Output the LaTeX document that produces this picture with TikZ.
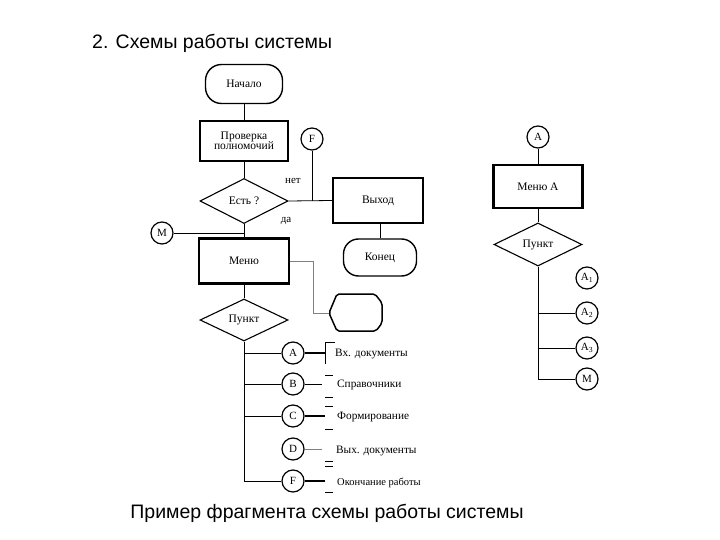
\documentclass[tikz,border=0pt]{standalone}
\usepackage{fontspec}
\setmainfont{Liberation Serif}
\newfontfamily\titlefont{Liberation Sans}
\usetikzlibrary{shapes.geometric}
\begin{document}
\begin{tikzpicture}[x=1pt,y=-1pt,
  ln/.style={line width=0.8pt},
  box/.style={draw, line width=2.4pt, inner sep=0pt, font=\fontsize{11.5}{12.5}\selectfont, align=center},
  term/.style={draw, line width=1.4pt, rounded corners=16pt, inner sep=0pt, font=\fontsize{11.5}{13}\selectfont},
  dia/.style={draw, diamond, line width=1.1pt, inner sep=0pt, font=\fontsize{11.5}{13}\selectfont},
  con/.style={draw, circle, line width=1.2pt, minimum size=22pt, inner sep=0pt, font=\fontsize{11}{12}\selectfont},
  ann/.style={anchor=west, inner sep=0pt, font=\fontsize{11.3}{13}\selectfont},
  lbl/.style={inner sep=0pt, font=\fontsize{11}{12}\selectfont},
  ttl/.style={inner sep=0pt, font=\titlefont\fontsize{19.5}{22}\selectfont}]
\useasboundingbox (0,0) rectangle (720,540);
% titles
\node[ttl, anchor=west] (title) at (92,43) {2. Схемы работы системы};
\node[ttl] (caption) at (327,513) {Пример фрагмента схемы работы системы};
% left column
\node[term, minimum width=77pt, minimum height=39pt] (start) at (244,84) {Начало};
\node[box, minimum width=88pt, minimum height=40pt] (prov) at (244,141) {Проверка\\[-2pt]полномочий};
\node[con] (F0) at (312,139) {F};
\node[dia, minimum width=88pt, minimum height=45pt] (est) at (244,201) {Есть ?};
\node[box, minimum width=90pt, minimum height=45pt] (vyh) at (378,200.5) {Выход};
\node[term, minimum width=73pt, minimum height=37pt, rounded corners=15pt] (konec) at (380,257.5) {Конец};
\node[con] (M0) at (162,233) {M};
\node[box, minimum width=90pt, minimum height=45pt] (menu) at (244,261) {Меню};
\node[dia, minimum width=88pt, minimum height=42pt] (punkt) at (244,320) {Пункт};
\node[lbl] (net) at (293,181) {нет};
\node[lbl] (da) at (286,221) {да};
% hexagon-like shape
\coordinate (hexW) at (329,313);
\draw[line width=1.5pt, rounded corners=2pt] (hexW) -- (337,294) -- (375,294) -- (382,303) -- (382,323) -- (376,331) -- (337,331) -- cycle;
% connectors left column
\draw[ln] (start) -- (prov);
\draw[ln] (prov) -- (est);
\draw[ln] (est.east) -- (vyh.west);
\draw[ln] (F0) -- (F0 |- est.east);
\draw[ln] (vyh.south -| konec.north) -- (konec.north);
\draw[ln] (est) -- (menu);
\draw[ln] (M0) -- (M0 -| est.south);
\draw[ln, gray] (menu.east) -- ++(23,0) |- (hexW);
\draw[ln] (menu) -- (punkt);
% branch connectors
\node[con] (cA) at (293,353) {A};
\node[con] (cB) at (293,384) {B};
\node[con] (cC) at (293,416) {C};
\node[con] (cD) at (293,449) {D};
\node[con] (cF) at (293,481) {F};
\draw[ln] (punkt.south) -- (punkt.south |- cF.west);
\draw[ln] (cA.west) -- (cA.west -| punkt.south);
\draw[ln] (cB.west) -- (cB.west -| punkt.south);
\draw[ln] (cC.west) -- (cC.west -| punkt.south);
\draw[ln] (cF.west) -- (cF.west -| punkt.south);
% annotations
\coordinate (aA) at (325,353);
\coordinate (aB) at (322,384);
\coordinate (aC) at (325,416);
\coordinate (aD) at (322,449);
\coordinate (aF) at (325,481);
\draw[line width=1.3pt] (cA.east) -- (aA);
\draw[ln] (cB.east) -- (aB);
\draw[line width=1.1pt] (cC.east) -- (aC);
\draw[ln, gray] (cD.east) -- (aD);
\draw[line width=1.1pt] (cF.east) -- (aF);
\draw[ln] (335,342) -- (325,342) -- (325,364);
\foreach \yy in {375,397,406,429,461,466,492} \draw[ln] (325,\yy) -- (333,\yy);
\node[ann] (tA) at (335,354) {Вх. документы};
\node[ann] (tB) at (337,385) {Справочники};
\node[ann] (tC) at (337,417) {Формирование};
\node[ann] (tD) at (336,451) {Вых. документы};
\node[ann, font=\fontsize{10.5}{12}\selectfont] (tF) at (337,483) {Окончание работы};
% right column
\node[con] (rA) at (538,137) {A};
\node[box, minimum width=89pt, minimum height=43pt] (menuA) at (538,186.5) {Меню А};
\node[dia, minimum width=88pt, minimum height=43pt] (punktA) at (538,244.5) {Пункт};
\node[con] (rA1) at (587,278) {A\textsubscript{1}};
\node[con] (rA2) at (587,313) {A\textsubscript{2}};
\node[con] (rA3) at (587,348) {A\textsubscript{3}};
\node[con] (rM) at (587,379) {M};
\draw[ln] (rA) -- (menuA);
\draw[ln] (menuA) -- (punktA);
\draw[ln] (punktA.south) -- (punktA.south |- rM.west);
\draw[ln] (rA2.west) -- (rA2.west -| punktA.south);
\draw[ln] (rA3.west) -- (rA3.west -| punktA.south);
\draw[ln] (rM.west) -- (rM.west -| punktA.south);
\end{tikzpicture}
\end{document}
